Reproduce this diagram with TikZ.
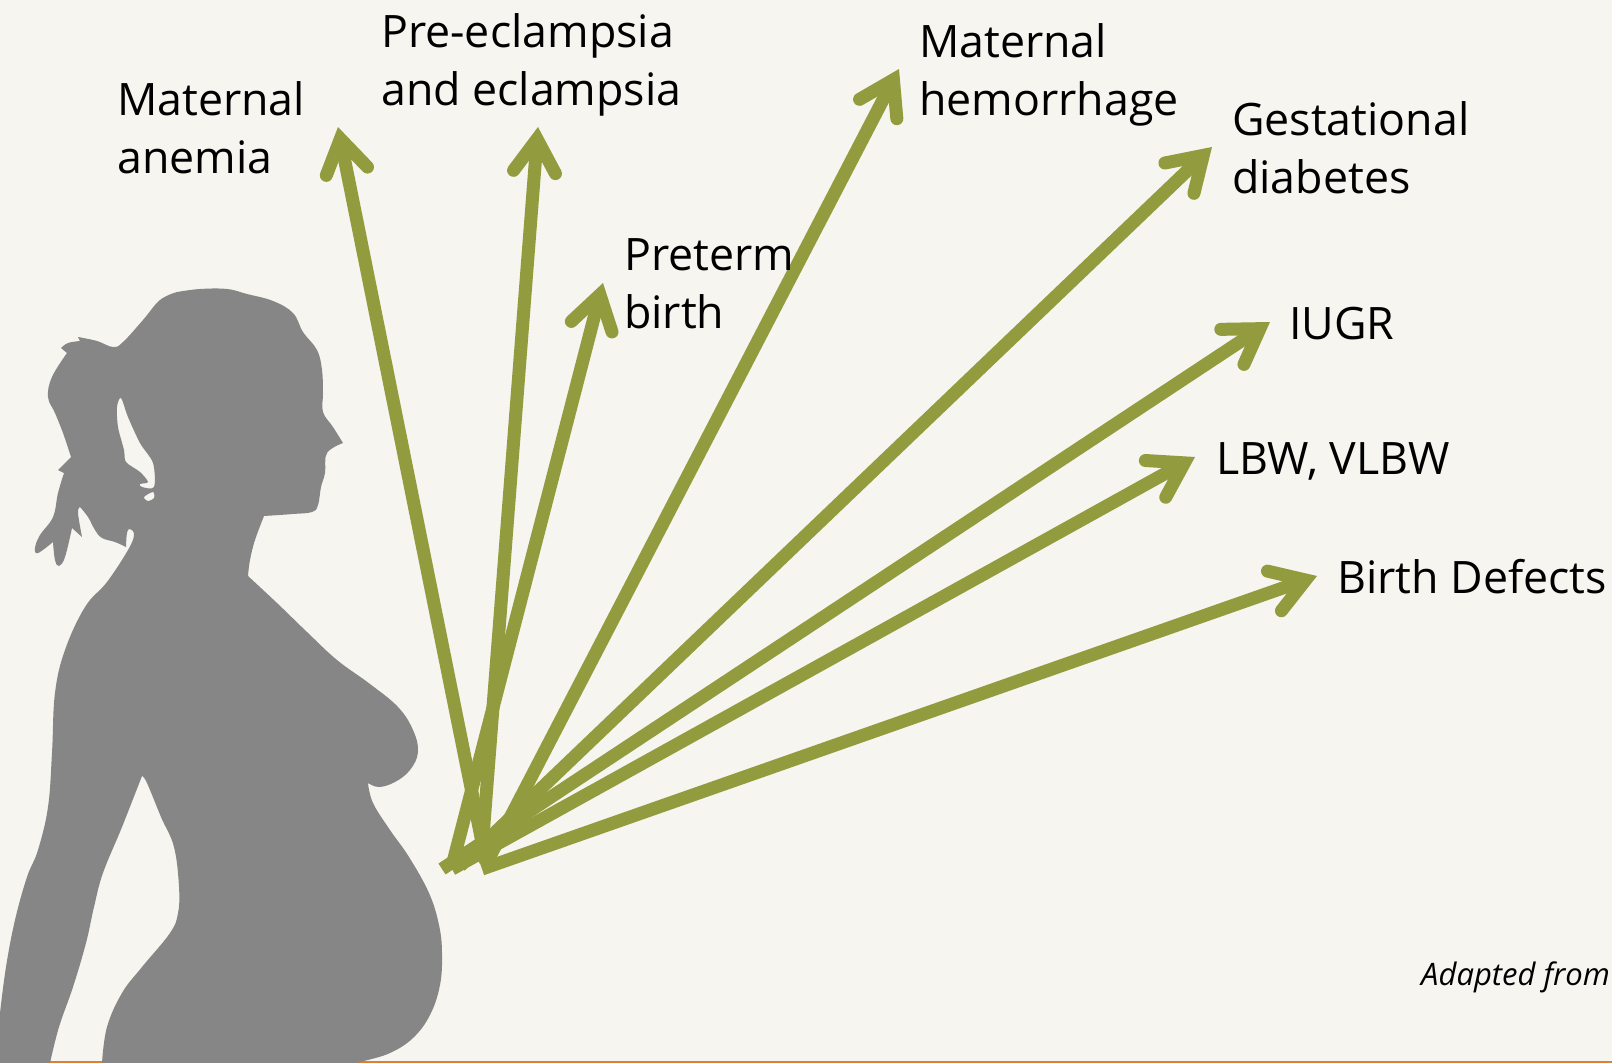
\documentclass[tikz,border=0pt]{standalone}
\usepackage{fontspec}
\setmainfont{Open Sans}
\usetikzlibrary{positioning}
\usetikzlibrary{arrows.meta}
\definecolor{paper}{HTML}{F6F5F0}
\definecolor{figgray}{HTML}{868686}
\definecolor{arrowolive}{HTML}{929B3D}
\definecolor{rule}{HTML}{E07F30}

\begin{document}
\begin{tikzpicture}[x=1pt,y=-1pt,
  outcome/.style={anchor=base west, align=left, inner sep=0pt,
    font=\fontsize{44.7}{58}\selectfont},
  effect/.style={-{Straight Barb[length=33pt, width=42pt, line width=13pt, line cap=round, line join=miter]},
    arrowolive, line width=13pt}]

  \useasboundingbox (0,0) rectangle (1612,1063);
  \fill[paper] (0,0) rectangle (1612,1063);
  \fill[rule] (0,1061) rectangle (1612,1063);

  \fill[figgray, even odd rule]
  plot[smooth, tension=.65] coordinates {(177,292) (200,289) (227,289) (247,294) (273,301) (293,313) (303,332) (317,350) (322,370) (323,393) (323,412) (333,427) (343,443)}
  -- plot[smooth, tension=.65] coordinates {(343,443) (327,453) (325,473) (321,487) (318,505) (312,512) (293,514) (264,516)}
  -- plot[smooth, tension=.65] coordinates {(264,516) (255,540) (250,560) (248,576)}
  -- plot[smooth, tension=.65] coordinates {(248,576) (277,603) (307,632) (337,660) (370,684) (398,707) (413,730) (418,752) (410,770) (395,782) (379,787) (368,783)}
  -- plot[smooth, tension=.65] coordinates {(368,783) (373,803) (390,830) (409,857) (429,893) (439,925) (442,953) (440,985) (430,1015) (413,1038) (390,1053) (364,1061) (356,1063)}
  -- plot[smooth, tension=.65] coordinates {(102,1063) (107,1027) (122,993) (142,967) (170,933) (178,913) (179,887) (174,847) (161,817) (147,783) (142,776)}
  -- plot[smooth, tension=.65] coordinates {(142,776) (122,827) (103,873) (94,907) (86,943) (73,987) (59,1027) (50,1063)}
  -- (0,1063)
  -- plot[smooth, tension=.65] coordinates {(0,1013) (6,967) (15,920) (27,877) (38,850) (48,807) (52,753) (55,693) (65,650) (85,607) (107,582) (128,550) (134,535) (130,529) (127,533) (126,547)}
  -- plot[smooth, tension=.65] coordinates {(126,547) (115,542) (102,538) (95,530) (88,517) (80,507)}
  -- plot[smooth, tension=.65] coordinates {(80,507) (78,513) (82,537)}
  -- (72,528)
  -- plot[smooth, tension=.65] coordinates {(72,528) (65,557) (59,566) (55,560) (53,542)}
  -- plot[smooth, tension=.65] coordinates {(53,542) (38,553) (35,548) (40,535) (53,517) (58,493) (64,473)}
  -- (58,470) -- (71,457)
  -- plot[smooth, tension=.65] coordinates {(71,457) (63,433) (55,413) (48,397) (52,377) (67,353)}
  -- (61,348)
  -- plot[smooth, tension=.65] coordinates {(61,348) (68,343) (80,341)}
  -- (78,337)
  -- plot[smooth, tension=.65] coordinates {(78,337) (97,341) (113,347) (123,342) (143,320) (160,300) (177,292)}
  -- cycle
  plot[smooth cycle, tension=.5] coordinates {(121,398) (128,417) (140,443) (153,463) (154,487) (142,487) (140,484) (148,482) (140,472) (126,462) (124,450) (118,427) (117,407)}
  plot[smooth cycle, tension=.5] coordinates {(144,497) (153,492) (154,498) (148,501)};

  \coordinate (start1) at (486,862);
  \coordinate (start2) at (481,862);
  \coordinate (start3) at (452,866);
  \coordinate (start4) at (485,866);
  \coordinate (start5) at (460,866);
  \coordinate (start6) at (442,869);
  \coordinate (start7) at (452,869);
  \coordinate (start8) at (482,869);

  \coordinate (tip1) at (338,127);
  \coordinate (tip2) at (538,127);
  \coordinate (tip3) at (603,283);
  \coordinate (tip4) at (899,69);
  \coordinate (tip5) at (1212,147);
  \coordinate (tip6) at (1270,322);
  \coordinate (tip7) at (1195,457);
  \coordinate (tip8) at (1317,576);

  \path[effect]
  (start1) edge (tip1)
  (start2) edge (tip2)
  (start3) edge (tip3)
  (start4) edge (tip4)
  (start5) edge (tip5)
  (start6) edge (tip6)
  (start7) edge (tip7)
  (start8) edge (tip8);

  \node[outcome] (O1) at (117,173) {Maternal\\anemia};
  \node[outcome] (O2) at (381,105) {Pre-eclampsia\\and eclampsia};
  \node[outcome] (O3) at (624,328) {Preterm\\birth};
  \node[outcome] (O4) at (919,115) {Maternal\\hemorrhage};
  \node[outcome] (O5) at (1232,193) {Gestational\\diabetes};
  \node[outcome] (O6) at (1289,339) {IUGR};
  \node[outcome] (O7) at (1216,474) {LBW, VLBW};
  \node[outcome] (O8) at (1337,593) {Birth Defects};
  \node[outcome, font=\itshape\fontsize{31}{36}\selectfont] (O9) at (1421,985) {Adapted from};

\end{tikzpicture}
\end{document}
